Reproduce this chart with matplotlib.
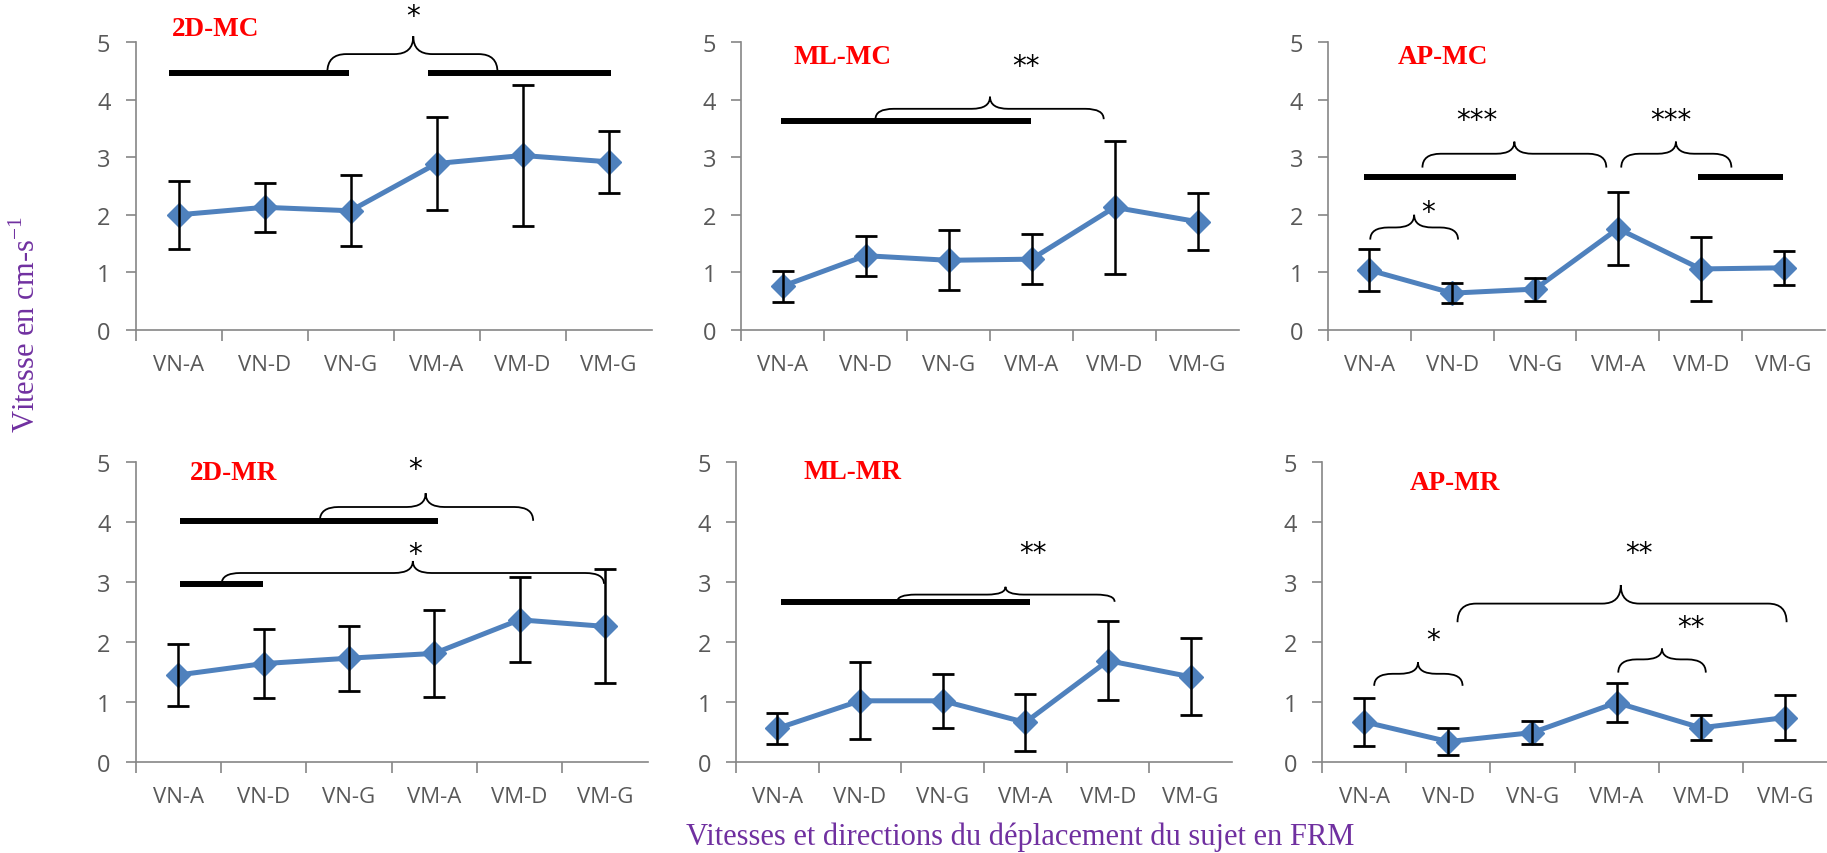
import matplotlib
matplotlib.use('Agg')
import matplotlib.pyplot as plt
from matplotlib.path import Path
from matplotlib.patches import PathPatch

# categories on the x axis (same for every panel)
categories = ['VN-A', 'VN-D', 'VN-G', 'VM-A', 'VM-D', 'VM-G']

# mean speed and standard deviation
mean_2d_mc = [2.00, 2.13, 2.07, 2.89, 3.03, 2.92]
sd_2d_mc = [0.59, 0.42, 0.62, 0.80, 1.23, 0.54]

mean_ml_mc = [0.76, 1.29, 1.21, 1.23, 2.13, 1.88]
sd_ml_mc = [0.27, 0.35, 0.52, 0.44, 1.15, 0.49]

mean_ap_mc = [1.04, 0.64, 0.71, 1.76, 1.06, 1.08]
sd_ap_mc = [0.36, 0.17, 0.20, 0.64, 0.55, 0.30]

mean_2d_mr = [1.45, 1.64, 1.73, 1.81, 2.37, 2.26]
sd_2d_mr = [0.52, 0.57, 0.54, 0.72, 0.71, 0.95]

mean_ml_mr = [0.56, 1.02, 1.02, 0.66, 1.69, 1.42]
sd_ml_mr = [0.26, 0.64, 0.45, 0.47, 0.66, 0.64]

mean_ap_mr = [0.67, 0.34, 0.49, 0.99, 0.57, 0.74]
sd_ap_mr = [0.40, 0.23, 0.19, 0.32, 0.21, 0.37]

# significance marks: thick bars (x start, x end, y)
bars_2d_mc = [(0.39, 2.48, 4.47), (3.40, 5.53, 4.47)]
bars_ml_mc = [(0.48, 3.49, 3.63)]
bars_ap_mc = [(0.43, 2.27, 2.66), (4.47, 5.49, 2.66)]
bars_2d_mr = [(0.52, 3.55, 4.02), (0.52, 1.49, 2.96)]
bars_ml_mr = [(0.54, 3.56, 2.66)]
bars_ap_mr = []

# braces (x left, x right, x tip, y ends, y flat, y tip)
braces_2d_mc = [(2.23, 4.21, 3.23, 4.47, 4.79, 5.10)]
braces_ml_mc = [(1.62, 4.37, 3.00, 3.66, 3.84, 4.05)]
braces_ap_mc = [(1.14, 3.36, 2.25, 2.82, 3.06, 3.27),
                (3.54, 4.87, 4.20, 2.82, 3.06, 3.27),
                (0.51, 1.57, 1.04, 1.57, 1.78, 2.00)]
braces_2d_mr = [(2.16, 4.66, 3.40, 4.02, 4.25, 4.48),
                (1.01, 5.49, 3.25, 2.97, 3.15, 3.35)]
braces_ml_mr = [(1.95, 4.58, 3.26, 2.67, 2.79, 2.92)]
braces_ap_mr = [(1.61, 5.52, 3.55, 2.33, 2.64, 2.95),
                (0.62, 1.67, 1.14, 1.27, 1.47, 1.66),
                (3.52, 4.56, 4.04, 1.49, 1.71, 1.89)]

# stars (x, y, text)
stars_2d_mc = [(3.23, 5.45, '*')]
stars_ml_mc = [(3.43, 4.58, '**')]
stars_ap_mc = [(1.80, 3.65, '***'), (4.14, 3.65, '***'), (1.21, 2.05, '*')]
stars_2d_mr = [(3.28, 4.88, '*'), (3.28, 3.47, '*')]
stars_ml_mr = [(3.59, 3.49, '**')]
stars_ap_mr = [(3.77, 3.48, '**'), (1.32, 2.03, '*'), (4.38, 2.25, '**')]

panel_titles = ['2D-MC', 'ML-MC', 'AP-MC', '2D-MR', 'ML-MR', 'AP-MR']

line_color = '#4F81BD'
axis_color = '#868686'
label_color = '#595959'
purple = '#7030A0'

W, H = 1827, 854


def px_axes(fig, left, right, top, bottom):
    # create axes from pixel positions in the figure
    return fig.add_axes([left / W, 1 - bottom / H, (right - left) / W, (bottom - top) / H])


def draw_brace(ax, x0, x1, xm, y_end, y_flat, y_tip):
    r = min(0.22, (xm - x0) / 2, (x1 - xm) / 2)
    verts = [(x0, y_end), (x0, y_flat), (x0 + r, y_flat),
             (xm - r, y_flat),
             (xm, y_flat), (xm, y_tip),
             (xm, y_flat), (xm + r, y_flat),
             (x1 - r, y_flat),
             (x1, y_flat), (x1, y_end)]
    codes = [Path.MOVETO, Path.CURVE3, Path.CURVE3,
             Path.LINETO,
             Path.CURVE3, Path.CURVE3,
             Path.CURVE3, Path.CURVE3,
             Path.LINETO,
             Path.CURVE3, Path.CURVE3]
    patch = PathPatch(Path(verts, codes), facecolor='none', edgecolor='black', lw=1.3)
    patch.set_clip_on(False)
    ax.add_patch(patch)


def draw_panel(ax, title, title_xy, means, sds, bars, braces, stars):
    xs = [i + 0.5 for i in range(len(categories))]
    ax.plot(xs, means, color=line_color, lw=3.6, marker='D', markersize=12,
            markerfacecolor=line_color, markeredgecolor=line_color, zorder=3)
    ax.errorbar(xs, means, yerr=sds, fmt='none', ecolor='black', elinewidth=1.8,
                capsize=8, capthick=2, zorder=4)

    for x0, x1, y in bars:
        ax.plot([x0, x1], [y, y], color='black', lw=4.3, solid_capstyle='butt', clip_on=False)
    for b in braces:
        draw_brace(ax, *b)
    for x, y, s in stars:
        ax.text(x, y, s, ha='center', va='center', fontsize=20, color='black',
                family='DejaVu Sans', clip_on=False)

    ax.set_xlim(0, 6)
    ax.set_ylim(0, 5)
    ax.spines['top'].set_visible(False)
    ax.spines['right'].set_visible(False)
    for side in ['left', 'bottom']:
        ax.spines[side].set_color(axis_color)
        ax.spines[side].set_linewidth(1.2)

    ax.set_xticks(range(6))
    ax.set_xticklabels([])
    ax.set_xticks(xs, minor=True)
    ax.set_xticklabels(categories, minor=True)
    ax.tick_params(axis='x', which='major', length=8, width=1.2, color=axis_color)
    ax.tick_params(axis='x', which='minor', length=0, pad=17, labelsize=16, labelcolor=label_color)
    ax.set_yticks(range(6))
    ax.tick_params(axis='y', length=7, width=1.2, color=axis_color, pad=11,
                   labelsize=17, labelcolor=label_color)

    # red panel title, placed in pixel coordinates of the figure
    ax.figure.text(title_xy[0] / W, 1 - title_xy[1] / H, title, color='red', fontsize=19.5,
                   fontweight='bold', family='Liberation Serif', ha='center', va='center')


plt.rcParams['font.family'] = ['Open Sans', 'DejaVu Sans']
plt.rcParams['mathtext.fontset'] = 'custom'
plt.rcParams['mathtext.rm'] = 'Liberation Serif'

fig = plt.figure(figsize=(W / 100, H / 100), dpi=100)

ax1 = px_axes(fig, 135.5, 651.5, 43, 331)
ax2 = px_axes(fig, 741, 1239, 43, 331)
ax3 = px_axes(fig, 1328, 1825, 43, 331)
ax4 = px_axes(fig, 135.5, 647.5, 463, 763)
ax5 = px_axes(fig, 736, 1232, 463, 763)
ax6 = px_axes(fig, 1322, 1827, 463, 763)

draw_panel(ax1, panel_titles[0], (216, 29), mean_2d_mc, sd_2d_mc, bars_2d_mc, braces_2d_mc, stars_2d_mc)
draw_panel(ax2, panel_titles[1], (843, 57), mean_ml_mc, sd_ml_mc, bars_ml_mc, braces_ml_mc, stars_ml_mc)
draw_panel(ax3, panel_titles[2], (1443, 57), mean_ap_mc, sd_ap_mc, bars_ap_mc, braces_ap_mc, stars_ap_mc)
draw_panel(ax4, panel_titles[3], (234, 474), mean_2d_mr, sd_2d_mr, bars_2d_mr, braces_2d_mr, stars_2d_mr)
draw_panel(ax5, panel_titles[4], (853, 473), mean_ml_mr, sd_ml_mr, bars_ml_mr, braces_ml_mr, stars_ml_mr)
draw_panel(ax6, panel_titles[5], (1455, 484), mean_ap_mr, sd_ap_mr, bars_ap_mr, braces_ap_mr, stars_ap_mr)

# shared axis labels
fig.text(27 / W, 1 - 325 / H, 'Vitesse en cm-s$^{\\mathregular{-1}}$', rotation=90,
         color=purple, fontsize=22, family='Liberation Serif', ha='center', va='center')
fig.text(1020 / W, 1 - 837 / H, 'Vitesses et directions du déplacement du sujet en FRM',
         color=purple, fontsize=22, family='Liberation Serif', ha='center', va='center')

fig.savefig('out.png', dpi=100)
